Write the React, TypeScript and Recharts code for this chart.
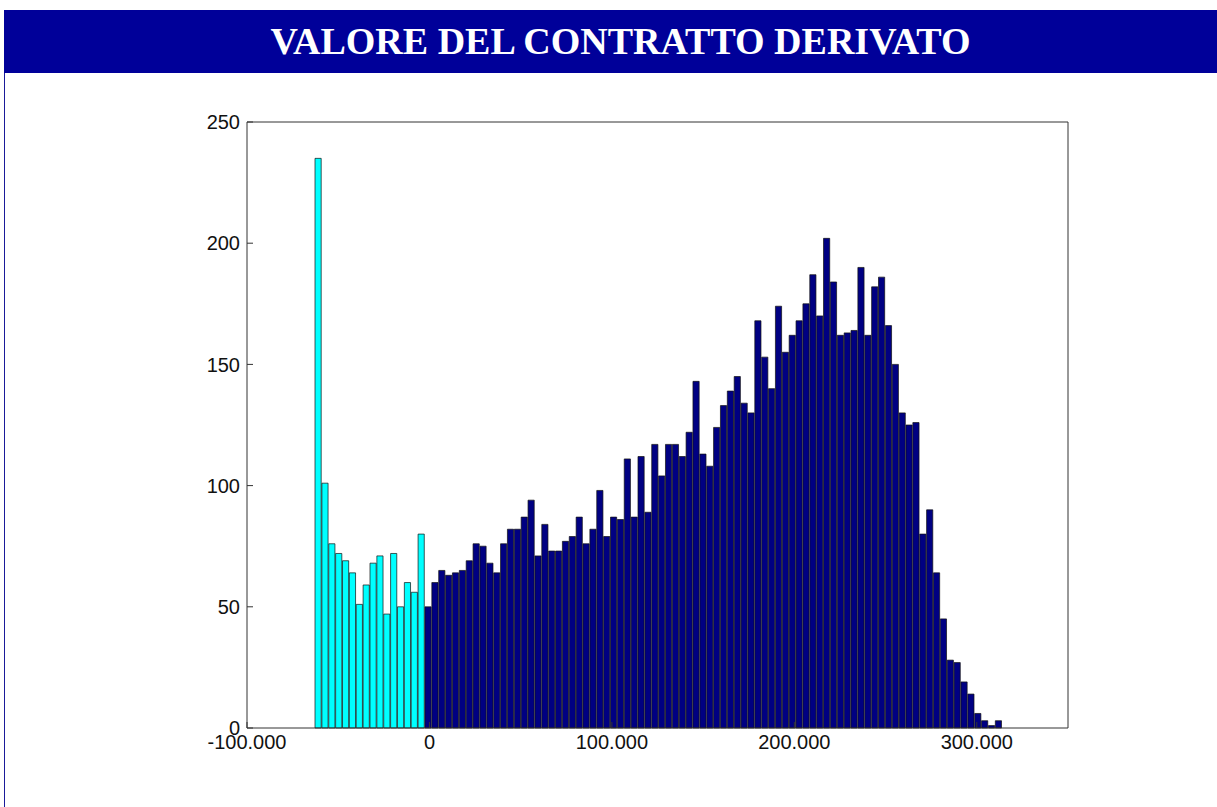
import React from 'react';
import { BarChart, Bar, Cell, XAxis, YAxis } from 'recharts';

// histogram bins (value units)
const binStart = -62720;
const binWidth = 3766.5;

// counts of the bins below zero (cyan)
const negCounts = [235, 101, 76, 72, 69, 64, 51, 59, 68, 71, 47, 72, 50, 60, 56, 80];

// counts of the bins from zero upwards (navy)
const posCounts = [
  50, 60, 65, 63, 64, 65, 69, 76, 75, 68,
  64, 76, 82, 82, 87, 94, 71, 84, 73, 73,
  77, 79, 87, 76, 82, 98, 79, 87, 86, 111,
  87, 112, 89, 117, 104, 117, 117, 112, 122, 143,
  113, 108, 124, 133, 139, 145, 134, 130, 168, 153,
  140, 174, 155, 162, 168, 175, 187, 170, 202, 184,
  162, 163, 164, 190, 162, 182, 186, 166, 150, 130,
  125, 126, 80, 90, 64, 45, 28, 27, 19, 14,
  6, 3, 1, 3,
];

const xTicks = [-100000, 0, 100000, 200000, 300000];
const xTickLabels = ['-100.000', '0', '100.000', '200.000', '300.000'];
const yTicks = [0, 50, 100, 150, 200, 250];

const chartData = [
  ...negCounts.map((count, i) => ({ x: binStart + (i + 0.5) * binWidth, count, neg: true })),
  ...posCounts.map((count, j) => ({
    x: binStart + (negCounts.length + j + 0.5) * binWidth,
    count,
    neg: false,
  })),
];

const tickStyle = { fontSize: 20, fill: '#111', fontFamily: '"Liberation Sans", Arial, sans-serif' };

export default function App() {
  return (
    <div
      style={{
        position: 'fixed',
        left: 0,
        top: 0,
        width: 1217,
        height: 807,
        overflow: 'hidden',
        background: '#fff',
      }}
    >
      <div style={{ position: 'absolute', left: 0, top: 0 }}>
        <BarChart
          width={1217}
          height={807}
          data={chartData}
          margin={{ top: 121, left: 246, right: 148, bottom: 78 }}
          barCategoryGap={0}
          barGap={0}
        >
          <XAxis
            dataKey="x"
            type="number"
            domain={[-100000, 350000]}
            ticks={xTicks}
            tickFormatter={(v: number) => xTickLabels[xTicks.indexOf(v)] ?? ''}
            height={1}
            tickSize={-6}
            tickMargin={13}
            interval={0}
            stroke="#333"
            tick={tickStyle}
          />
          <XAxis
            xAxisId="top"
            orientation="top"
            type="number"
            domain={[-100000, 350000]}
            ticks={xTicks}
            height={1}
            tickSize={-6}
            tick={false}
            stroke="#333"
          />
          <YAxis
            type="number"
            domain={[0, 250]}
            ticks={yTicks}
            width={1}
            tickSize={-6}
            tickMargin={13}
            interval={0}
            stroke="#333"
            tick={tickStyle}
          />
          <YAxis
            yAxisId="right"
            orientation="right"
            type="number"
            domain={[0, 250]}
            ticks={yTicks}
            width={1}
            tickSize={-6}
            tick={false}
            stroke="#333"
          />
          <Bar dataKey="count" barSize={6.9} stroke="#111" strokeWidth={0.7} isAnimationActive={false}>
            {chartData.map((d, i) => (
              <Cell key={i} fill={d.neg ? '#00FFFF' : '#000082'} />
            ))}
          </Bar>
        </BarChart>
      </div>

      {/* page frame */}
      <div style={{ position: 'absolute', left: 4, top: 10, width: 1213, height: 63, background: '#000099' }} />
      <div style={{ position: 'absolute', left: 4, top: 73, width: 1, height: 734, background: '#1a1a99' }} />
      <div
        style={{
          position: 'absolute',
          left: 4,
          top: 10,
          width: 1233,
          height: 63,
          lineHeight: '63px',
          textAlign: 'center',
          color: '#fff',
          fontFamily: '"Liberation Serif", "Times New Roman", serif',
          fontWeight: 'bold',
          fontSize: 38,
          whiteSpace: 'nowrap',
        }}
      >
        VALORE DEL CONTRATTO DERIVATO
      </div>
    </div>
  );
}
